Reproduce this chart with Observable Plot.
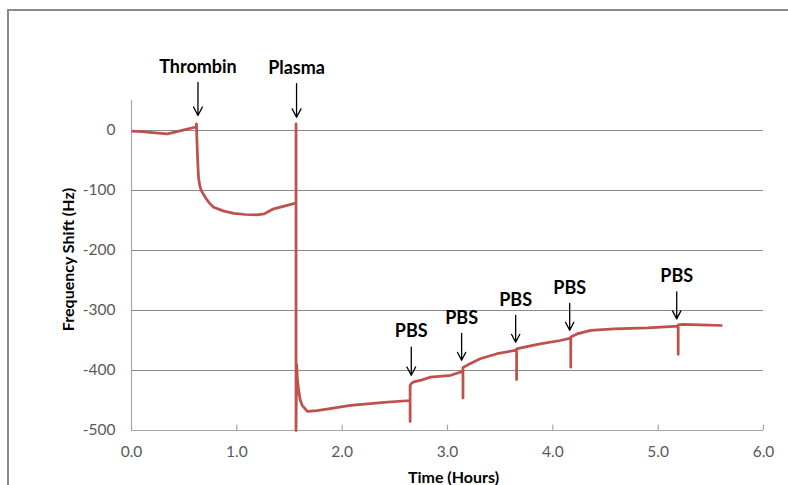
<!DOCTYPE html>
<html>
<head>
<meta charset="utf-8">
<script src="https://cdn.jsdelivr.net/npm/d3@7"></script>
<script src="https://cdn.jsdelivr.net/npm/@observablehq/plot@0.6"></script>
<style>
  html, body { margin: 0; padding: 0; background: #fff; }
  #wrap { position: relative; width: 788px; height: 485px; overflow: hidden; }
  #frame { position: absolute; left: 7px; top: 9px; width: 800px; height: 500px;
           border-top: 2px solid #8a8a8a; border-left: 2px solid #8a8a8a; pointer-events: none; }
  #chart { position: absolute; left: 0; top: 0; }
</style>
</head>
<body>
<div id="wrap"><div id="frame"></div><div id="chart"></div></div>
<script>
// Time (hours) and frequency shift (Hz)
const time = [
  0.00, 0.10, 0.20, 0.34, 0.37, 0.45, 0.52, 0.59, 0.615,
  0.617, 0.620, 0.627, 0.636, 0.648, 0.66, 0.675, 0.703, 0.74, 0.78, 0.87, 0.97, 1.08, 1.19, 1.26, 1.30, 1.35, 1.45, 1.54, 1.562,
  1.562, 1.562, 1.568, 1.575, 1.585, 1.60, 1.62, 1.67, 1.76, 1.90, 2.08, 2.40, 2.645,
  2.645, 2.645, 2.66, 2.68, 2.75, 2.84, 3.03, 3.12, 3.147,
  3.147, 3.147, 3.19, 3.31, 3.47, 3.656,
  3.656, 3.656, 3.73, 3.88, 4.07, 4.17,
  4.17, 4.17, 4.23, 4.36, 4.58, 4.90, 5.15, 5.19,
  5.19, 5.19, 5.23, 5.40, 5.61
];
const shift = [
  -1, -2, -3.5, -5.5, -4.5, -1, 2, 5, 6,
  11, -10, -45, -78, -92, -99, -104, -112, -121, -128, -134, -138, -140, -140.5, -139, -135, -130.5, -126, -122, -121,
  11, -500, -390, -415, -430, -448, -458, -468, -467, -463, -458, -453, -450,
  -485, -425, -421, -419, -416, -411, -408, -403, -400,
  -446, -395, -391, -380.5, -372, -366,
  -415, -364, -361, -355.5, -350, -346,
  -394.5, -344, -339, -333, -330.5, -329, -326.5, -326,
  -373, -324, -323, -324, -325
];

// Annotations: label, time (hours), arrow tip and tail (Hz)
const annLabels = ["Thrombin", "Plasma", "PBS", "PBS", "PBS", "PBS", "PBS"];
const annTimes  = [0.631, 1.567, 2.656, 3.134, 3.647, 4.16, 5.176];
const annTip    = [25, 22, -408, -383, -353, -333, -314];
const annTail   = [80, 78, -361, -338, -308, -288, -269];

// Axis ticks
const xTicks = [0, 1, 2, 3, 4, 5, 6];
const yTicks = [0, -100, -200, -300, -400, -500];

const data = time.map((t, i) => ({t, f: shift[i]}));
const ann = annLabels.map((label, i) => ({label, t: annTimes[i], tip: annTip[i], tail: annTail[i]}));

const font = "Lato, 'Open Sans', sans-serif";

const chart = Plot.plot({
  width: 788,
  height: 485,
  marginLeft: 131,
  marginRight: 25,
  marginTop: 100,
  marginBottom: 55,
  x: {domain: [0, 6]},
  y: {domain: [-500, 50]},
  style: {fontFamily: font, fontSize: "15.5px", color: "#595959", background: "transparent", overflow: "visible"},
  marks: [
    Plot.gridY(yTicks.filter(d => d > -500), {stroke: "#8a8a8a", strokeOpacity: 1, strokeWidth: 1}),
    Plot.ruleX([0], {stroke: "#a6a6a6", strokeWidth: 1.2}),
    Plot.ruleY([-500], {stroke: "#a6a6a6", strokeWidth: 1.2}),
    Plot.ruleX(xTicks.slice(1), {x: d => d, y1: -500, y2: -491, stroke: "#a6a6a6", strokeWidth: 1.2}),
    Plot.axisX({ticks: xTicks, tickSize: 0, tickPadding: 15, tickFormat: d => d.toFixed(1), label: null}),
    Plot.axisY({ticks: yTicks, tickSize: 0, tickPadding: 16, tickFormat: d => String(d), label: null}),
    Plot.line(data, {x: "t", y: "f", stroke: "#c0504d", strokeWidth: 2.75, strokeLinejoin: "round", strokeLinecap: "butt"}),
    Plot.arrow(ann, {x1: "t", y1: "tail", x2: "t", y2: "tip", stroke: "#000", strokeWidth: 1.3, headLength: 11, headAngle: 55}),
    Plot.text(ann, {x: "t", y: "tail", text: "label", dy: -15.5, fill: "#000", fontWeight: "bold", fontSize: 18, fontFamily: font}),
    Plot.text(["Frequency Shift (Hz)"], {frameAnchor: "left", textAnchor: "middle", lineAnchor: "middle", dx: -63, dy: -6, rotate: -90, fill: "#000", fontWeight: "bold", fontSize: 16, fontFamily: font}),
    Plot.text(["Time (Hours)"], {frameAnchor: "bottom", textAnchor: "middle", lineAnchor: "middle", dx: 6, dy: 47, fill: "#000", fontWeight: "bold", fontSize: 16, fontFamily: font})
  ]
});
document.getElementById("chart").appendChild(chart);
</script>
</body>
</html>
